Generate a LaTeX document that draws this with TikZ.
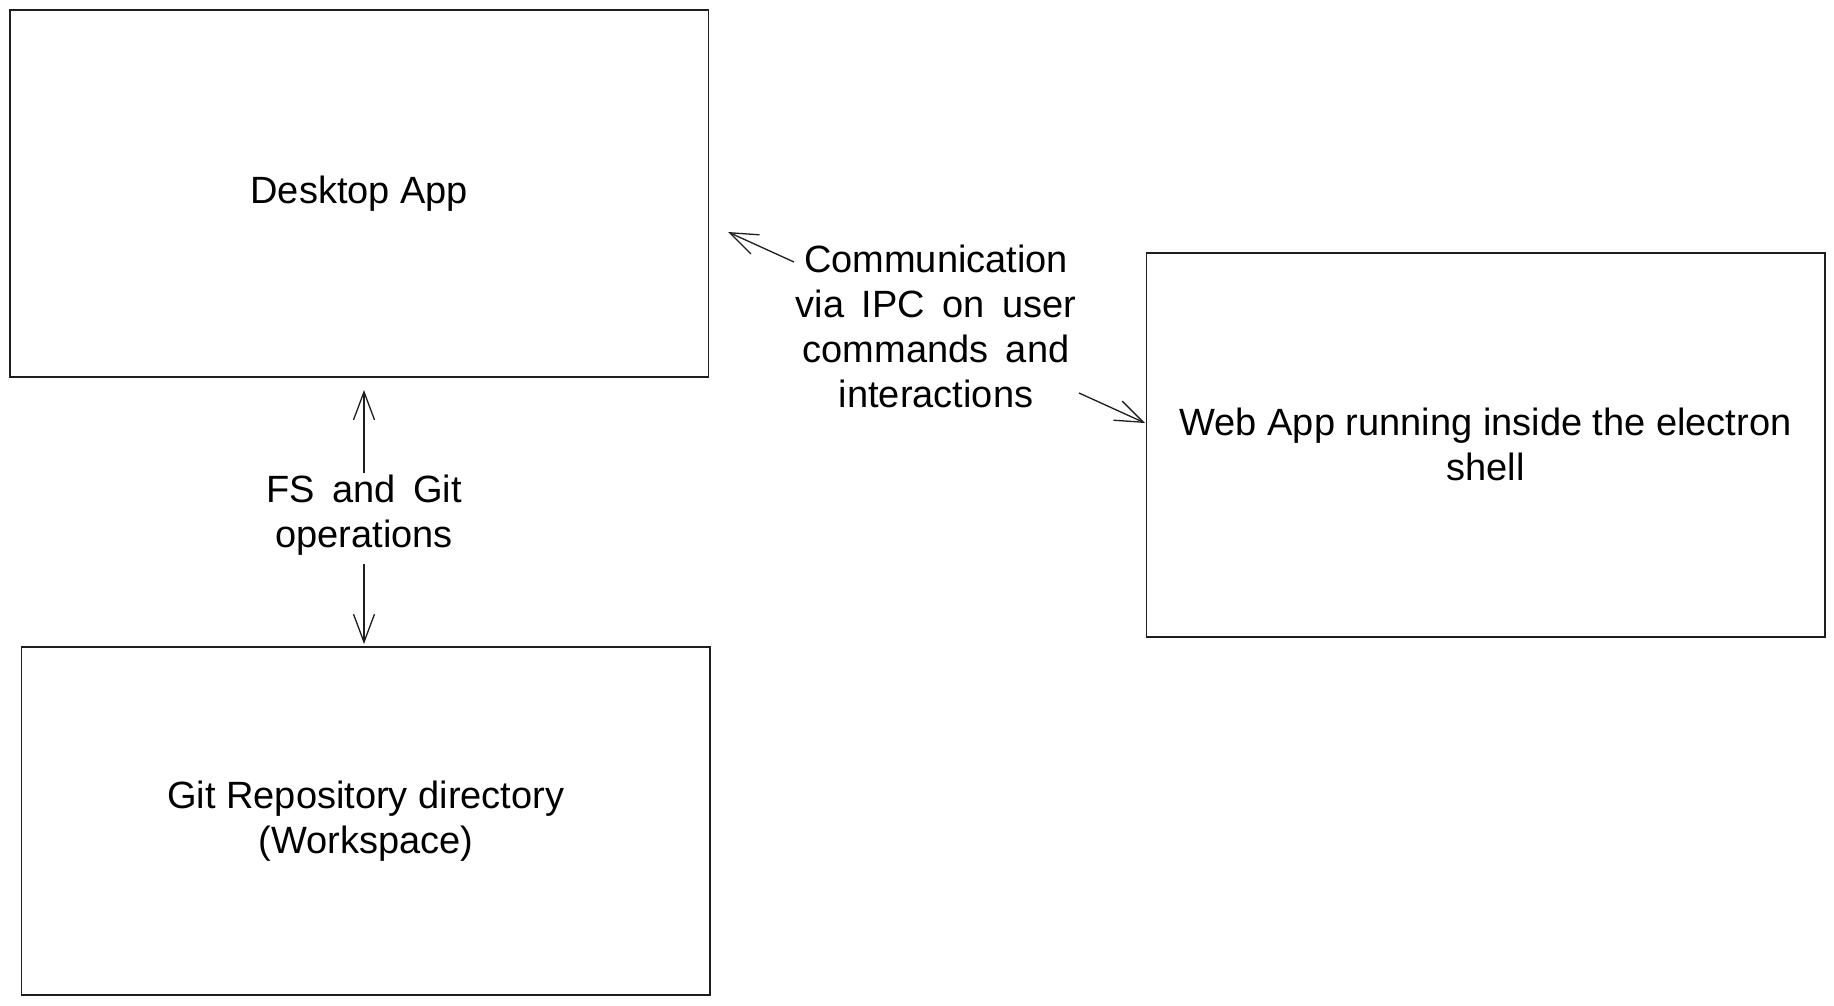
\documentclass[tikz,border=0pt]{standalone}
\usepackage{fontspec}
\setmainfont{Liberation Sans}
\usetikzlibrary{arrows.meta}
\definecolor{ink}{HTML}{1E1E1E}
\newcommand\mylblfont{\fontsize{38}{45}\selectfont\setlength{\spaceskip}{0.46em plus 0.1em}}
\begin{document}
\begin{tikzpicture}[x=1pt,y=-1pt,
  box/.style={draw=ink, line width=1.8pt, rectangle, inner sep=0pt, outer sep=0pt,
    align=center, font=\fontsize{38}{45}\selectfont, text=black},
  lbl/.style={align=center, font=\mylblfont, text=black, inner sep=0pt},
  arr/.style={draw=ink, line width=1.3pt, -{Straight Barb[length=28pt,width=21pt]}}
]
\useasboundingbox (0,0) rectangle (1834,1005);
\fill[white] (0,0) rectangle (1834,1005);

\node[box, minimum width=698.5pt, minimum height=366.7pt] (desk) at (359.25,193.35) {Desktop App};
\node[box, minimum width=688.5pt, minimum height=348.3pt] (git) at (365.75,820.85) {Git Repository directory\\(Workspace)};
\node[box, minimum width=678.2pt, minimum height=384.3pt] (web) at (1485.6,444.85) {Web App running inside the electron\\shell};

\node[lbl] (fs) at (364,515) {FS and Git\\operations};
\node[lbl] (comm) at (936,326) {Communication\\via IPC on user\\commands and\\interactions};

\coordinate (fsup) at (364,472.5);
\coordinate (fsupend) at (364,390);
\coordinate (fsdn) at (364,564);
\coordinate (fsdnend) at (364,644);
\coordinate (c1s) at (794,262);
\coordinate (c1e) at (728,232);
\coordinate (c2s) at (1079,393);
\coordinate (c2e) at (1145,423);

\draw[arr] (fsup) -- (fsupend);
\draw[arr] (fsdn) -- (fsdnend);
\draw[arr] (c1s) -- (c1e);
\draw[arr] (c2s) -- (c2e);
\end{tikzpicture}
\end{document}
